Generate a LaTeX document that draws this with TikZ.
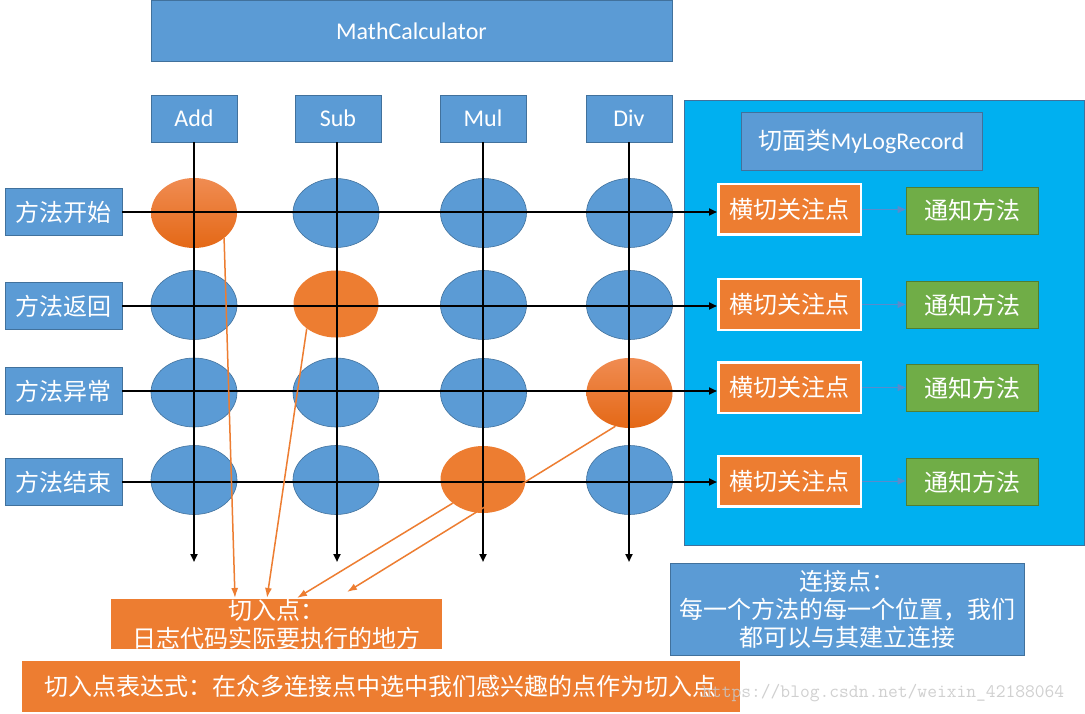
\documentclass[tikz,border=0pt]{standalone}
\usepackage{fontspec}
\setmainfont{Carlito}
\newfontfamily\cjk{Noto Sans CJK SC}
\usetikzlibrary{shapes.geometric,arrows.meta,calc}
\definecolor{bbox}{HTML}{5B9BD5}
\definecolor{bdraw}{HTML}{41719C}
\definecolor{oran}{HTML}{ED7D31}
\definecolor{cyanp}{HTML}{00B0F0}
\definecolor{grn}{HTML}{70AD47}
\definecolor{grnd}{HTML}{507E32}
\definecolor{otop}{RGB}{240,140,82}
\definecolor{omid}{RGB}{243,124,36}
\definecolor{obot}{RGB}{228,104,22}
\definecolor{wmc}{RGB}{200,200,200}
\definecolor{tarc}{RGB}{88,140,205}
\begin{document}
\begin{tikzpicture}[x=1pt,y=-1pt,
  big/.style={font=\fontsize{24pt}{28pt}\selectfont},
  bluebox/.style={draw=bdraw, fill=bbox, line width=0.8pt, text=white, inner sep=0pt, big},
  mbox/.style={bluebox, minimum width=86pt, minimum height=47pt},
  lbox/.style={bluebox, minimum width=117pt, minimum height=47pt, font=\cjk\fontsize{24pt}{28pt}\selectfont},
  bell/.style={ellipse, draw=bdraw, fill=bbox, line width=0.6pt, minimum width=86pt, minimum height=69pt, inner sep=0pt},
  oell/.style={ellipse, fill=oran, draw=none, minimum width=85pt, minimum height=67pt, inner sep=0pt},
  gell/.style={ellipse, top color=otop, middle color=omid, bottom color=obot, draw=none, minimum width=86pt, minimum height=70pt, inner sep=0pt},
  hbox/.style={fill=oran, draw=white, line width=2.5pt, minimum width=142.5pt, minimum height=50.5pt, inner sep=0pt, text=white, font=\cjk\fontsize{24pt}{28pt}\selectfont},
  gbox/.style={fill=grn, draw=grnd, line width=0.8pt, minimum width=132pt, minimum height=47pt, inner sep=0pt, text=white, font=\cjk\fontsize{24pt}{28pt}\selectfont},
  blk/.style={draw=black, line width=2pt, -{Triangle[length=8pt,width=7pt]}},
  oarr/.style={draw=oran, line width=1.5pt, -{Latex[length=10pt,width=7pt]}},
  tarr/.style={draw=tarc, line width=1pt, -{Triangle[length=8pt,width=7pt]}},
  obox/.style={fill=oran, draw=none, inner sep=0pt, text=white, align=center, font=\cjk\fontsize{24pt}{28pt}\selectfont}
]
\useasboundingbox (0,0) rectangle (1085,714);
\fill[white] (0,0) rectangle (1085,714);

% top class box
\node[bluebox, minimum width=521pt, minimum height=61pt] (mc) at (411.5,31) {MathCalculator};

% method boxes
\node[mbox] (m1) at (194,118.5) {Add};
\node[mbox] (m2) at (338,118.5) {Sub};
\node[mbox] (m3) at (483,118.5) {Mul};
\node[mbox] (m4) at (629,118.5) {Div};

% row labels
\node[lbox] (l1) at (63.5,212) {方法开始};
\node[lbox] (l2) at (63.5,306) {方法返回};
\node[lbox] (l3) at (63.5,391) {方法异常};
\node[lbox] (l4) at (63.5,482) {方法结束};

% aspect panel
\node[draw=bdraw, fill=cyanp, line width=0.8pt, minimum width=400pt, minimum height=445pt, inner sep=0pt] (panel) at (884,322.5) {};
\node[bluebox, minimum width=241pt, minimum height=58pt] (asp) at (861.5,141) {{\cjk 切面类}MyLogRecord};

% join point ellipses
\node[gell] (e11) at (194,213) {};
\node[bell] (e12) at (336,213) {};
\node[bell] (e13) at (483.5,213) {};
\node[bell] (e14) at (629.5,213) {};
\node[bell] (e21) at (194,305) {};
\node[oell] (e22) at (336,304) {};
\node[bell] (e23) at (483.5,305) {};
\node[bell] (e24) at (629.5,305) {};
\node[bell] (e31) at (194,392.5) {};
\node[bell] (e32) at (336,392.5) {};
\node[bell] (e33) at (483.5,393) {};
\node[gell] (e34) at (629.5,393) {};
\node[bell] (e41) at (194,480) {};
\node[bell] (e42) at (336,480) {};
\node[oell] (e43) at (483,479.5) {};
\node[bell] (e44) at (629.5,480) {};

% cross-cutting concern boxes and advice boxes
\node[hbox] (h1) at (789.5,209.5) {横切关注点};
\node[hbox] (h2) at (789.5,304.5) {横切关注点};
\node[hbox] (h3) at (789.5,387.5) {横切关注点};
\node[hbox] (h4) at (789.5,481) {横切关注点};
\node[gbox] (g1) at (972,210.5) {通知方法};
\node[gbox] (g2) at (972,305) {通知方法};
\node[gbox] (g3) at (972,388) {通知方法};
\node[gbox] (g4) at (972,482) {通知方法};
\foreach \i in {1,...,4} {\draw[tarr] (h\i.east) -- (h\i.east -| g\i.west);}

% vertical lines
\coordinate (v1) at (194,562);
\coordinate (v2) at (337,562);
\coordinate (v3) at (483,562);
\coordinate (v4) at (629,562);
\foreach \i in {1,...,4} {\draw[blk] (v\i |- m\i.south) -- (v\i);}
% horizontal lines
\foreach \i in {1,...,4} {\draw[blk] (l\i.east) -- (l\i.east -| h\i.west);}

% bottom boxes
\node[obox, minimum width=331pt, minimum height=50pt] (qr) at (276.5,624) {切入点：\\日志代码实际要执行的地方};
\node[bluebox, align=center, minimum width=354pt, minimum height=92pt, font=\cjk\fontsize{24pt}{28pt}\selectfont] (jp) at (847,609) {连接点：\\每一个方法的每一个位置，我们\\都可以与其建立连接};
\node[obox, minimum width=718pt, minimum height=51pt] (pc) at (381,686.5) {切入点表达式：在众多连接点中选中我们感兴趣的点作为切入点};

% pointcut arrows
\coordinate (t1) at (235,598);
\coordinate (t2) at (267,598);
\coordinate (t3) at (297,598);
\coordinate (t4) at (347,592);
\draw[oarr] (e11.-40) -- (t1);
\draw[oarr] (e22.220) -- (t2);
\draw[oarr] (e43.218) -- (t3);
\draw[oarr] (e34.247) -- (t4);

% watermark
\node[anchor=west, inner sep=0pt, text=wmc, text opacity=0.85, font=\ttfamily\fontsize{19pt}{19pt}\selectfont] (wm) at (702,693) {https://blog.csdn.net/weixin\_42188064};
\end{tikzpicture}
\end{document}
